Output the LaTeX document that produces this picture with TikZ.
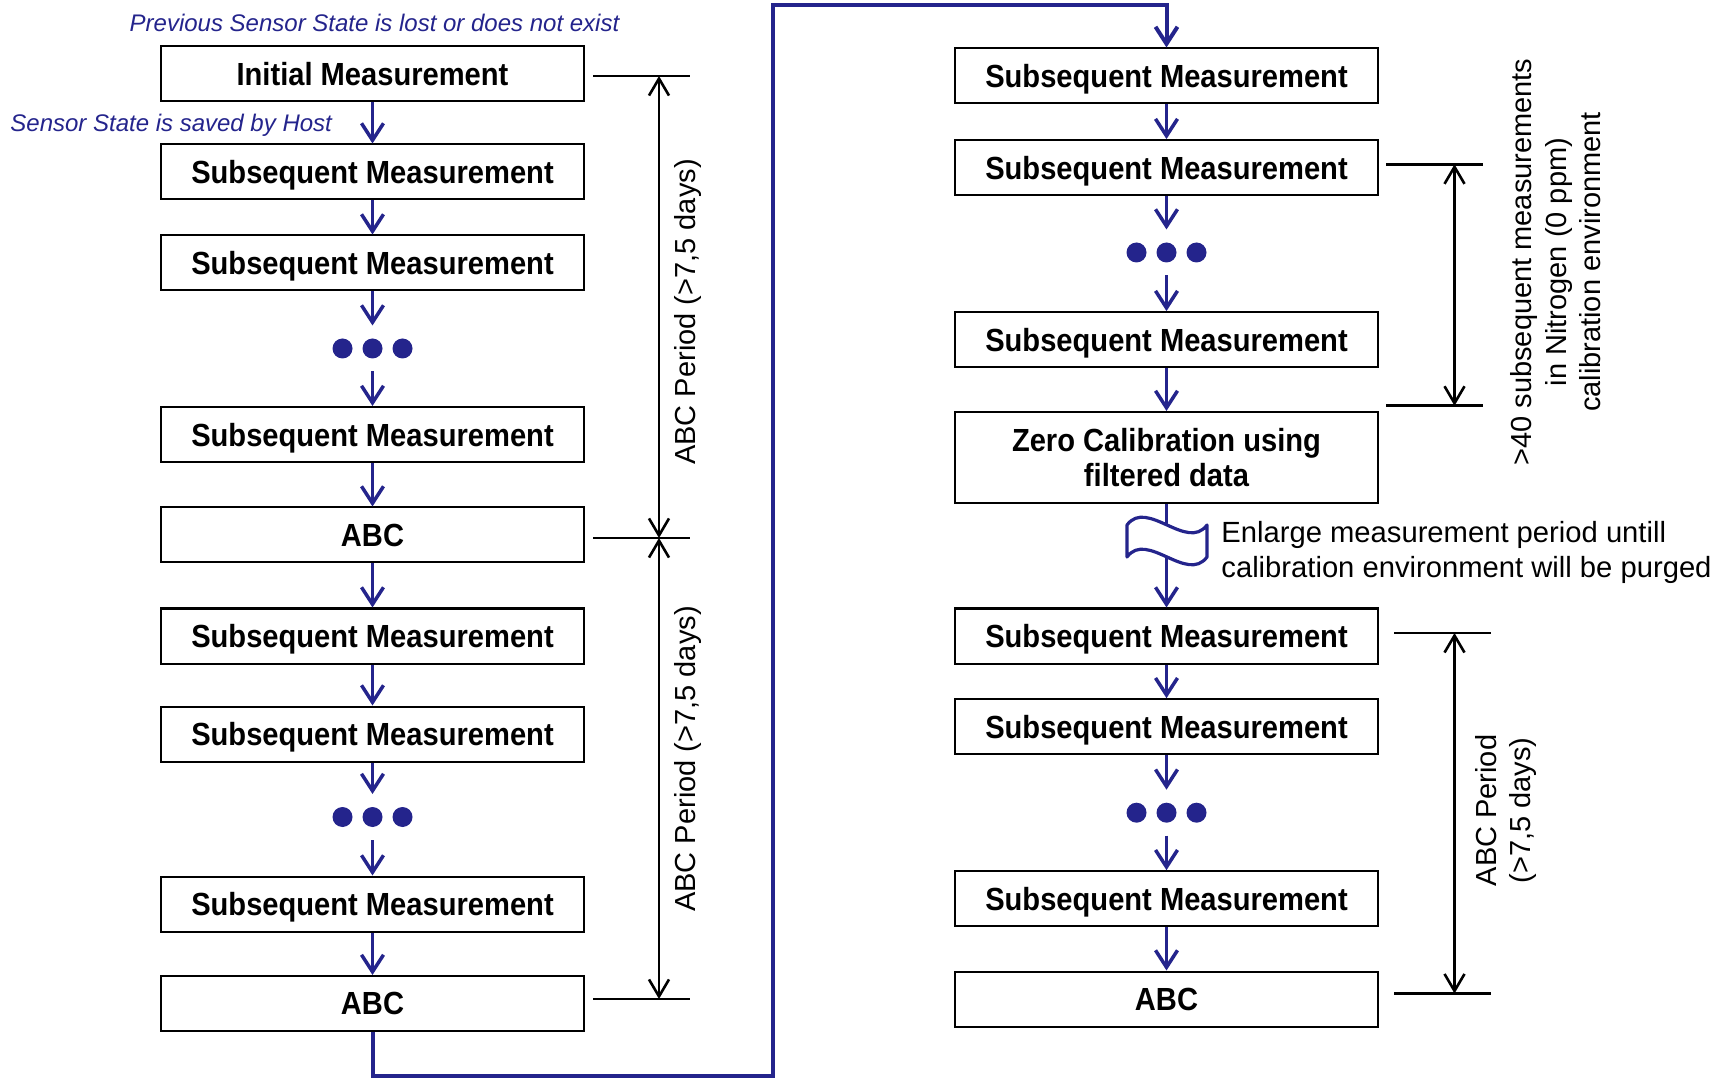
\documentclass[tikz,border=0pt]{standalone}
\usepackage{fontspec}
\setmainfont{Liberation Sans}
\newfontfamily\boxfont[FakeStretch=0.91]{Liberation Sans}
\usetikzlibrary{arrows.meta}
\definecolor{flowblue}{RGB}{36,36,140}

\begin{document}
\begin{tikzpicture}[x=0.5pt,y=-0.5pt,
  boxbase/.style={draw=black, line width=1pt, fill=white, minimum width=211.5pt,
    minimum height=27.5pt, inner sep=0pt, align=center,
    font=\boxfont\bfseries\fontsize{16}{17.6}\selectfont},
  box/.style={boxbase, text depth=0pt},
  flow/.style={draw=flowblue, line width=1.75pt, line join=miter,
    -{Straight Barb[length=8.5pt,width=11pt]}},
  dot/.style={circle, fill=flowblue, minimum size=10pt, inner sep=0pt},
  dotmid/.style={dot, outer sep=6.5pt},
  tick/.style={draw=black, line width=1.3pt},
  span/.style={draw=black, line width=1.3pt,
    {Straight Barb[length=8.5pt,width=10pt]}-{Straight Barb[length=8.5pt,width=10pt]}},
  note/.style={text=flowblue, font=\itshape\fontsize{12}{14}\selectfont, inner sep=0pt},
  dimlabel/.style={font=\fontsize{14.5}{17.2}\selectfont, align=center, rotate=90, inner sep=0pt},
  remark/.style={font=\fontsize{14.6}{17.75}\selectfont, align=left, inner sep=0pt}
]
\useasboundingbox (0,0) rectangle (1729,1079);

% ---------- left column ----------
\node[box] (init) at (372.5,73.9) {Initial Measurement};
\node[box] (ls1) at (372.5,172) {Subsequent Measurement};
\node[box] (ls2) at (372.5,263) {Subsequent Measurement};
\node[dotmid] (ldA) at (372.5,348.5) {};
\node[dot] (ldA1) at (342.5,348.5) {};
\node[dot] (ldA3) at (402.5,348.5) {};
\node[box] (ls3) at (372.5,434.5) {Subsequent Measurement};
\node[box] (labc1) at (372.5,535) {ABC};
\node[box] (ls4) at (372.5,636) {Subsequent Measurement};
\node[box] (ls5) at (372.5,734) {Subsequent Measurement};
\node[dotmid] (ldB) at (372.5,817) {};
\node[dot] (ldB1) at (342.5,817) {};
\node[dot] (ldB3) at (402.5,817) {};
\node[box] (ls6) at (372.5,904) {Subsequent Measurement};
\node[box] (labc2) at (372.5,1003.5) {ABC};

\draw[flow] (init) -- (ls1);
\draw[flow] (ls1) -- (ls2);
\draw[flow] (ls2) -- (ldA);
\draw[flow] (ldA) -- (ls3);
\draw[flow] (ls3) -- (labc1);
\draw[flow] (labc1) -- (ls4);
\draw[flow] (ls4) -- (ls5);
\draw[flow] (ls5) -- (ldB);
\draw[flow] (ldB) -- (ls6);
\draw[flow] (ls6) -- (labc2);

\node[note] (lost) at (374.5,22.5) {Previous Sensor State is lost or does not exist};
\node[note, anchor=west] (saved) at (10,125.5) {Sensor State is saved by Host};

% ---------- right column ----------
\node[box] (rs1) at (1166.5,76) {Subsequent Measurement};
\node[box] (rs2) at (1166.5,167.6) {Subsequent Measurement};
\node[dotmid] (rdA) at (1166.5,252.5) {};
\node[dot] (rdA1) at (1136.5,252.5) {};
\node[dot] (rdA3) at (1196.5,252.5) {};
\node[box] (rs3) at (1166.5,339.6) {Subsequent Measurement};
\node[boxbase, minimum height=45.5pt] (zero) at (1166.5,457.5) {Zero Calibration using\\filtered data};
\node[box] (rs4) at (1166.5,636) {Subsequent Measurement};
\node[box] (rs5) at (1166.5,726.7) {Subsequent Measurement};
\node[dotmid] (rdB) at (1166.5,812.7) {};
\node[dot] (rdB1) at (1136.5,812.7) {};
\node[dot] (rdB3) at (1196.5,812.7) {};
\node[box] (rs6) at (1166.5,898.7) {Subsequent Measurement};
\node[box] (rabc) at (1166.5,999) {ABC};

\draw[flow] (rs1) -- (rs2);
\draw[flow] (rs2) -- (rdA);
\draw[flow] (rdA) -- (rs3);
\draw[flow] (rs3) -- (zero);
\draw[flow] (zero) -- (rs4);
\draw[flow] (rs4) -- (rs5);
\draw[flow] (rs5) -- (rdB);
\draw[flow] (rdB) -- (rs6);
\draw[flow] (rs6) -- (rabc);

% wait symbol on the link after the zero calibration
\draw[flowblue, line width=1.6pt, fill=white, line join=round]
  (1127,525) .. controls (1147,498) and (1187,552) .. (1207,525)
  -- (1207,557) .. controls (1187,584) and (1147,530) .. (1127,557) -- cycle;
\node[remark, anchor=west] (purge) at (1221,552.5)
  {Enlarge measurement period untill\\calibration environment will be purged};

% ---------- link from the left column to the right column ----------
\coordinate (loopA) at (773,1076);
\coordinate (loopB) at (773,5);
\draw[flow, line width=2pt] (labc2.south) |- (loopA) -- (loopB) -| (rs1.north);

% ---------- period spans, left ----------
\coordinate (lt1w) at (593,76);   \coordinate (lt1e) at (690,76);
\coordinate (lt2w) at (593,538);  \coordinate (lt2e) at (690,538);
\coordinate (lt3w) at (593,999);  \coordinate (lt3e) at (690,999);
\coordinate (lv1) at (659,76);
\coordinate (lv2) at (659,538);
\coordinate (lv3) at (659,999);
\draw[tick] (lt1w) -- (lt1e);
\draw[tick] (lt2w) -- (lt2e);
\draw[tick] (lt3w) -- (lt3e);
\draw[span] (lv1) -- (lv2);
\draw[span] (lv2) -- (lv3);
\node[dimlabel] (per1) at (688,312) {ABC Period (>7,5 days)};
\node[dimlabel] (per2) at (688,759) {ABC Period (>7,5 days)};

% ---------- period spans, right ----------
\coordinate (rt1w) at (1386,164.3);  \coordinate (rt1e) at (1483,164.3);
\coordinate (rt2w) at (1386,405.8);  \coordinate (rt2e) at (1483,405.8);
\coordinate (rv1) at (1454.5,164.3);
\coordinate (rv2) at (1454.5,405.8);
\draw[tick] (rt1w) -- (rt1e);
\draw[tick] (rt2w) -- (rt2e);
\draw[span] (rv1) -- (rv2);
\node[dimlabel] (nitro) at (1556,262)
  {>40 subsequent measurements\\in Nitrogen (0 ppm)\\calibration environment};

\coordinate (rt3w) at (1394,633);    \coordinate (rt3e) at (1491,633);
\coordinate (rt4w) at (1394,993.5);  \coordinate (rt4e) at (1491,993.5);
\coordinate (rv3) at (1454.5,633);
\coordinate (rv4) at (1454.5,993.5);
\draw[tick] (rt3w) -- (rt3e);
\draw[tick] (rt4w) -- (rt4e);
\draw[span] (rv3) -- (rv4);
\node[dimlabel] (per3) at (1506,810.5) {ABC Period\\(>7,5 days)};
\end{tikzpicture}
\end{document}
